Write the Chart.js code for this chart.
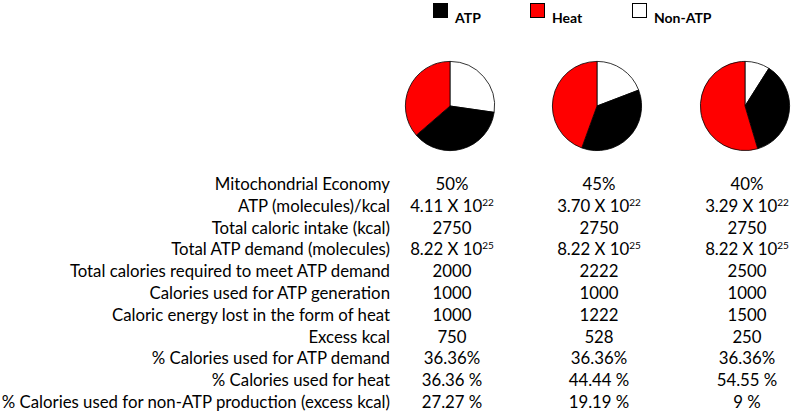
<!DOCTYPE html>
<html>
<head>
<meta charset="utf-8">
<script src="https://cdn.jsdelivr.net/npm/chart.js@4.4.1/dist/chart.umd.min.js"></script>
<style>
  html, body { margin:0; padding:0; background:#fff; }
  body { width:800px; height:415px; position:relative; overflow:hidden; font-family: Lato, "Open Sans", sans-serif; color:#000; }
  .pie { position:absolute; width:92px; height:92px; }
  .leg { position:absolute; top:0; font-weight:bold; font-size:14px; }
  .leg .sw { position:absolute; width:13px; height:13px; border:1.5px solid #000; top:3px; left:0; }
  .leg .tx { position:absolute; left:22px; top:9px; white-space:nowrap; }
  .row { position:absolute; left:0; width:800px; height:22px; font-size:16.8px; line-height:22px; }
  .lab { position:absolute; right:410px; white-space:nowrap; text-align:right; }
  .val { position:absolute; width:160px; text-align:center; white-space:nowrap; }
  sup { font-size:10px; vertical-align:6px; line-height:0; }
</style>
</head>
<body>
<div id="legend"></div>
<div id="pies"></div>
<div id="table"></div>
<script>
// ---- data ----
const categories = ['ATP', 'Heat', 'Non-ATP'];
const seriesColors = ['#000000', '#ff0000', '#ffffff'];
const economyLabels = ['50%', '45%', '40%'];
const atpPct = [36.36, 36.36, 36.36];
const heatPct = [36.36, 44.44, 54.55];
const nonAtpPct = [27.27, 19.19, 9];

const rowLabels = [
  'Mitochondrial Economy',
  'ATP (molecules)/kcal',
  'Total caloric intake (kcal)',
  'Total ATP demand (molecules)',
  'Total calories required to meet ATP demand',
  'Calories used for ATP generation',
  'Caloric energy lost in the form of heat',
  'Excess kcal',
  '% Calories used for ATP demand',
  '% Calories used for heat',
  '% Calories used for non-ATP production (excess kcal)'
];
const col1 = ['50%', '4.11 X 10<sup>22</sup>', '2750', '8.22 X 10<sup>25</sup>', '2000', '1000', '1000', '750', '36.36%', '36.36 %', '27.27 %'];
const col2 = ['45%', '3.70 X 10<sup>22</sup>', '2750', '8.22 X 10<sup>25</sup>', '2222', '1000', '1222', '528', '36.36%', '44.44 %', '19.19 %'];
const col3 = ['40%', '3.29 X 10<sup>22</sup>', '2750', '8.22 X 10<sup>25</sup>', '2500', '1000', '1500', '250', '36.36%', '54.55 %', '9 %'];

// ---- layout ----
const colCenters = [452, 599, 747];
const pieCenterY = 106;
const legendX = [433, 530, 632];

// legend
const legend = document.getElementById('legend');
categories.forEach((c, i) => {
  const d = document.createElement('div');
  d.className = 'leg';
  d.style.left = legendX[i] + 'px';
  d.innerHTML = '<div class="sw" style="background:' + seriesColors[i] + '"></div><div class="tx">' + c + '</div>';
  legend.appendChild(d);
});

// pies (clockwise from top: Non-ATP, ATP, Heat)
const pies = document.getElementById('pies');
[0, 1, 2].forEach(k => {
  const wrap = document.createElement('div');
  wrap.className = 'pie';
  wrap.style.left = (colCenters[k] - 2 - 46) + 'px';
  wrap.style.top = (pieCenterY - 46) + 'px';
  const cv = document.createElement('canvas');
  wrap.appendChild(cv);
  pies.appendChild(wrap);
  new Chart(cv, {
    type: 'pie',
    data: {
      labels: [categories[2], categories[0], categories[1]],
      datasets: [{
        data: [nonAtpPct[k], atpPct[k], heatPct[k]],
        backgroundColor: [seriesColors[2], seriesColors[0], seriesColors[1]],
        borderColor: '#000000',
        borderWidth: 0.8
      }]
    },
    options: {
      responsive: true,
      maintainAspectRatio: false,
      animation: false,
      layout: { padding: 1 },
      plugins: { legend: { display: false }, tooltip: { enabled: false } }
    }
  });
});

// table
const table = document.getElementById('table');
const cols = [col1, col2, col3];
rowLabels.forEach((lab, r) => {
  const row = document.createElement('div');
  row.className = 'row';
  row.style.top = (184 + r * 21.8 - 11) + 'px';
  let html = '<div class="lab">' + lab + '</div>';
  cols.forEach((c, k) => {
    html += '<div class="val" style="left:' + (colCenters[k] - 80) + 'px">' + c[r] + '</div>';
  });
  row.innerHTML = html;
  table.appendChild(row);
});
</script>
</body>
</html>
